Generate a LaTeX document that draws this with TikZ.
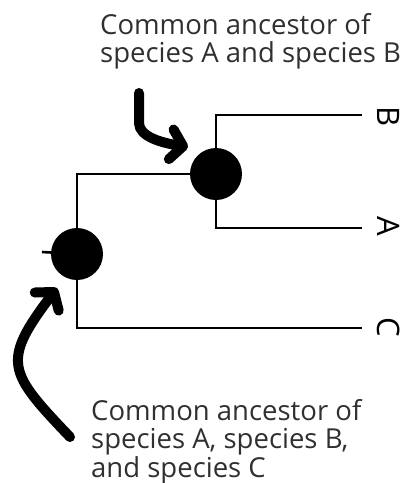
\documentclass[tikz,border=0pt]{standalone}
\usepackage{fontspec}
\setmainfont{Open Sans}
\usetikzlibrary{arrows.meta}
\definecolor{notegray}{RGB}{48,48,48}

\begin{document}
\begin{tikzpicture}[
    x=1pt, y=-1pt,
    branch/.style={line width=2.6pt},
    ancestor/.style={circle, fill=black, minimum size=52pt, inner sep=0pt},
    tiplabel/.style={font=\fontsize{31}{31}\selectfont, rotate=-90, inner sep=0pt},
    note/.style={align=left, anchor=north west, inner sep=0pt, text=notegray,
                 font=\fontsize{27.5}{28.5}\selectfont},
    hand/.style={line width=10pt, line cap=round, line join=round,
                 -{Straight Barb[length=12pt, width=30pt, round]}}
  ]
    \useasboundingbox (0,0) rectangle (414,483);

    % ancestors
    \node[ancestor] (ab)  at (216,174) {};
    \node[ancestor] (abc) at (77,254)  {};

    % species at the tips
    \node[tiplabel] (B) at (389,117) {B};
    \node[tiplabel] (A) at (389,226) {A};
    \node[tiplabel] (C) at (389,327) {C};
    \coordinate (tipB) at (362,115);
    \coordinate (tipA) at (362,228);
    \coordinate (tipC) at (362,328);
    \coordinate (stub) at (42,252);

    % tree
    \draw[branch] (tipB) -| (ab.center) |- (tipA);
    \draw[branch] (ab.center) -| (abc.center) |- (tipC);
    \draw[branch] (stub) -- (abc.center);

    % notes
    \node[note] (noteab)  at (100,13)  {Common ancestor of\\species A and species B};
    \node[note] (noteabc) at (91,399)  {Common ancestor of\\species A, species B,\\and species C};

    % hand drawn arrows
    \coordinate (from1) at (139,93);
    \coordinate (to1)   at (188,147);
    \coordinate (from2) at (70,437);
    \coordinate (to2)   at (57,288);
    \draw[hand] (from1) -- ++(0,30) .. controls +(0,14) and +(-25,-4) .. (to1);
    \draw[hand] (from2) .. controls (8,372) and (1,362) .. (to2);
  \end{tikzpicture}
\end{document}
